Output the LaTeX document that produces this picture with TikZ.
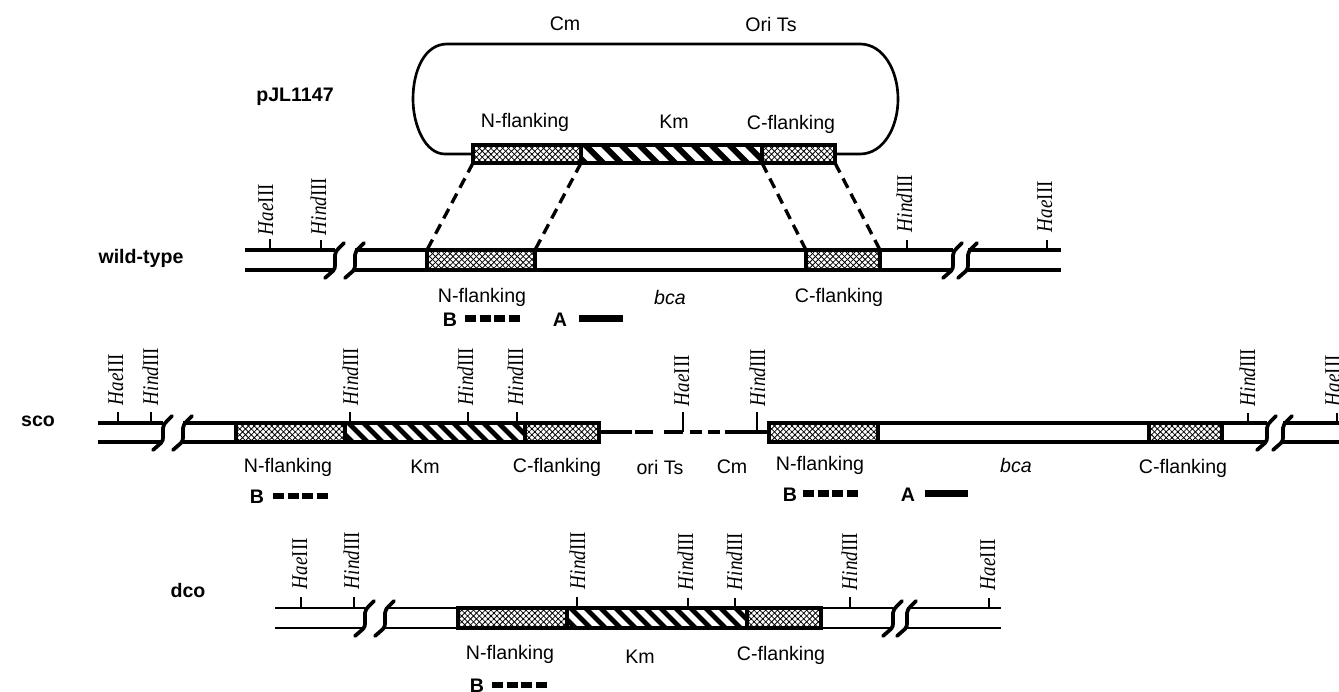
\documentclass[tikz,border=0pt]{standalone}
\usepackage{fontspec}
\usepackage{graphicx}
\setmainfont{Liberation Sans}
\newfontfamily\siteserif{Liberation Serif}
\usetikzlibrary{patterns.meta}
\tikzset{
  every node/.style={inner sep=0pt,outer sep=0pt,font=\fontsize{14.7}{16}\selectfont},
  strand/.style={line width=2.3pt,line cap=butt},
  thinstrand/.style={line width=2pt,line cap=butt},
  boxline/.style={line width=2.6pt,line join=miter},
  plasmidline/.style={line width=2pt},
  breakmark/.style={line width=2.8pt,line cap=round,line join=round},
  siteTick/.style={line width=2pt},
  crossing/.style={dash pattern=on 8pt off 5pt,line width=2.5pt},
  sitelabel/.style={rotate=90,anchor=base west,font=\siteserif\fontsize{14.3}{16}\selectfont},
  probeB/.style={line width=5pt,dash pattern=on 8.4pt off 2.55pt},
  probeA/.style={line width=5pt},
  gene/.style={anchor=center},
  boldlabel/.style={anchor=center,font=\fontsize{14.7}{16}\selectfont\bfseries},
}
% #1 name, #2 x1, #3 x2, #4 y1, #5 y2
\newcommand{\flankbox}[5]{%
  \fill[pattern={Lines[angle=45,distance=3.1pt,line width=.6pt]},pattern color=black] (#2,#4) rectangle (#3,#5);
  \fill[pattern={Lines[angle=-45,distance=3.1pt,line width=.6pt]},pattern color=black] (#2,#4) rectangle (#3,#5);
  \draw[boxline] (#2,#4) coordinate (#1nw) -- (#3,#4) coordinate (#1ne) -- (#3,#5) coordinate (#1se) -- (#2,#5) coordinate (#1sw) -- cycle;
}
% #6 stripe period
\newcommand{\kmbox}[6]{%
  \begin{scope}
    \clip (#2,#4) rectangle (#3,#5);
    \foreach \k in {-2,...,16}{
      \fill[black] ({#2+\k*#6},#4) -- ({#2+\k*#6+#6*0.46},#4) -- ({#2+\k*#6+#6*0.46+#5-#4},#5) -- ({#2+\k*#6+#5-#4},#5) -- cycle;
    }
  \end{scope}
  \draw[boxline] (#2,#4) coordinate (#1nw) -- (#3,#4) coordinate (#1ne) -- (#3,#5) coordinate (#1se) -- (#2,#5) coordinate (#1sw) -- cycle;
}
% #1 start x, #2 upper y, #3 lower y
\newcommand{\breakpair}[3]{%
  \draw[breakmark] (#1,#3+8) -- (#1+8,#3+1) .. controls (#1+10,#3-1) and (#1+10,#3-3) .. (#1+10,#3-5) -- (#1+10,#2+5) .. controls (#1+10,#2+2) and (#1+12,#2) .. (#1+14,#2-2) -- (#1+19,#2-7);
}
% #1 name, #2 x, #3 tick top y, #4 line y, #5 italic, #6 baseline x, #7 bottom y
\newcommand{\site}[7]{%
  \draw[siteTick] (#2,#3) -- (#2,#4);
  \node[sitelabel] (#1) at (#6,#7) {\scalebox{1}[1.18]{\textit{#5}III}};
}
\begin{document}
\begin{tikzpicture}[x=0.75pt,y=-0.75pt]
\useasboundingbox (0,0) rectangle (1339,692);
\clip (0,0) rectangle (1339,692);

% ---------- plasmid
\node[gene] (pCm) at (565,24) {Cm};
\node[gene] (pOri) at (771,24) {Ori Ts};
\node[boldlabel] (pname) at (295,97) {pJL1147};
\draw[plasmidline] (473,154) -- (445,154) .. controls (425,154) and (413,125) .. (413,99)
  .. controls (413,70) and (425,44) .. (447,44) -- (860,44)
  .. controls (883,44) and (898,70) .. (898,99)
  .. controls (898,128) and (883,154) .. (860,154) -- (835,154);
\node[gene] (pN) at (525,122) {N-flanking};
\node[gene] (pKm) at (674,122) {Km};
\node[gene] (pC) at (791,124) {C-flanking};
\kmbox{pk}{581}{762}{145}{163}{18}
\flankbox{pa}{473}{581}{145}{163}
\flankbox{pb}{762}{835}{145}{163}

% ---------- wild type
\node[boldlabel] (wname) at (141,258) {wild-type};
\draw[strand] (245,250) -- (335,250) (245,270) -- (335,270);
\draw[strand] (355,250) -- (427,250) (355,270) -- (427,270);
\draw[strand] (535,250) -- (806,250) (535,270) -- (806,270);
\draw[strand] (880,250) -- (953,250) (880,270) -- (953,270);
\draw[strand] (968,250) -- (1061,250) (968,270) -- (1061,270);
\flankbox{wa}{427}{535}{250}{270}
\flankbox{wb}{806}{880}{250}{270}
\breakpair{325}{250}{270}
\breakpair{345}{250}{270}
\breakpair{943}{250}{270}
\breakpair{958}{250}{270}
\site{wh1}{270}{239}{250}{Hae}{273}{235}
\site{wh2}{321}{240}{250}{Hind}{326}{235}
\site{wh3}{907}{240}{250}{Hind}{912}{232}
\site{wh4}{1047}{240}{250}{Hae}{1052}{232}
\draw[crossing] (pasw) -- (wanw);
\draw[crossing] (pase) -- (wane);
\draw[crossing] (pbsw) -- (wbnw);
\draw[crossing] (pbse) -- (wbne);
\node[gene] (wN) at (482,297) {N-flanking};
\node[gene,font=\fontsize{14.7}{16}\selectfont\itshape] (wbca) at (670,297) {bca};
\node[gene] (wC) at (839,297) {C-flanking};
\node[boldlabel] (wB) at (450,320) {B};
\coordinate (wB1) at (465,318.5); \coordinate (wB2) at (520,318.5);
\draw[probeB] (wB1) -- (wB2);
\node[boldlabel] (wA) at (560,320) {A};
\coordinate (wA1) at (579,318.5); \coordinate (wA2) at (623,318.5);
\draw[probeA] (wA1) -- (wA2);

% ---------- sco
\node[boldlabel] (sname) at (38,421) {sco};
\draw[strand] (98,423) -- (163,423) (98,442) -- (163,442);
\draw[strand] (183,423) -- (236,423) (183,442) -- (236,442);
\kmbox{sk}{345}{525}{423}{442}{15}
\flankbox{sa}{236}{345}{423}{442}
\flankbox{sb}{525}{599}{423}{442}
\draw[strand] (599,432) -- (632,432);
\draw[strand] (635,432) -- (653,432) (664,432) -- (683,432) (690,432) -- (702,432) (708,432) -- (720,432) (725,432) -- (769,432);
\draw[strand] (878,423) -- (1149,423) (878,442) -- (1149,442);
\draw[strand] (1222,423) -- (1267,423) (1222,442) -- (1267,442);
\draw[strand] (1283,423) -- (1339,423) (1283,442) -- (1339,442);
\flankbox{sc}{769}{878}{423}{442}
\flankbox{sd}{1149}{1222}{423}{442}
\breakpair{153}{423}{442}
\breakpair{173}{423}{442}
\breakpair{1257}{423}{442}
\breakpair{1273}{423}{442}
\site{sh1}{118}{412}{423}{Hae}{123}{405}
\site{sh2}{151}{412}{423}{Hind}{158}{405}
\site{sh3}{350}{412}{423}{Hind}{358}{405}
\site{sh4}{468}{412}{423}{Hind}{473}{405}
\site{sh5}{517}{412}{423}{Hind}{523}{405}
\site{sh6}{683}{412}{432}{Hae}{689}{406}
\site{sh7}{757}{412}{432}{Hind}{765}{406}
\site{sh8}{1248}{413}{423}{Hind}{1255}{406}
\site{sh9}{1337}{413}{423}{Hae}{1340}{406}
\node[gene] (sN) at (288,467) {N-flanking};
\node[gene] (sKm) at (425,467) {Km};
\node[gene] (sC) at (557,467) {C-flanking};
\node[gene] (sOri) at (660,467) {ori Ts};
\node[gene] (sCm) at (732,467) {Cm};
\node[gene] (sN2) at (820,465) {N-flanking};
\node[gene,font=\fontsize{14.7}{16}\selectfont\itshape] (sbca) at (1016,465) {bca};
\node[gene] (sC2) at (1183,468) {C-flanking};
\node[boldlabel] (sB) at (257,497) {B};
\coordinate (sB1) at (273,496); \coordinate (sB2) at (328,496);
\draw[probeB] (sB1) -- (sB2);
\node[boldlabel] (sB3) at (790,495) {B};
\coordinate (sB4) at (803,493.5); \coordinate (sB5) at (858,493.5);
\draw[probeB] (sB4) -- (sB5);
\node[boldlabel] (sA) at (908,495) {A};
\coordinate (sA1) at (925,493.5); \coordinate (sA2) at (968,493.5);
\draw[probeA] (sA1) -- (sA2);

% ---------- dco
\node[boldlabel] (dname) at (188,590) {dco};
\draw[thinstrand] (275,608) -- (365,608) (275,628) -- (365,628);
\draw[thinstrand] (385,608) -- (458,608) (385,628) -- (458,628);
\kmbox{dk}{567}{747}{608}{628}{15}
\flankbox{da}{458}{567}{608}{628}
\flankbox{db}{747}{821}{608}{628}
\draw[thinstrand] (821,608) -- (893,608) (821,628) -- (893,628);
\draw[thinstrand] (907,608) -- (1001,608) (907,628) -- (1001,628);
\breakpair{355}{608}{628}
\breakpair{375}{608}{628}
\breakpair{883}{608}{628}
\breakpair{897}{608}{628}
\site{dh1}{301}{597}{608}{Hae}{307}{589}
\site{dh2}{354}{597}{608}{Hind}{359}{589}
\site{dh3}{577}{597}{608}{Hind}{585}{589}
\site{dh4}{688}{598}{608}{Hind}{693}{590}
\site{dh5}{735}{598}{608}{Hind}{742}{590}
\site{dh6}{850}{597}{608}{Hind}{857}{590}
\site{dh7}{989}{598}{608}{Hae}{995}{590}
\node[gene] (dN) at (510,654) {N-flanking};
\node[gene] (dKm) at (640,657) {Km};
\node[gene] (dC) at (781,655) {C-flanking};
\node[boldlabel] (dB) at (477,686) {B};
\coordinate (dB1) at (492,685); \coordinate (dB2) at (547,685);
\draw[probeB] (dB1) -- (dB2);
\end{tikzpicture}
\end{document}
